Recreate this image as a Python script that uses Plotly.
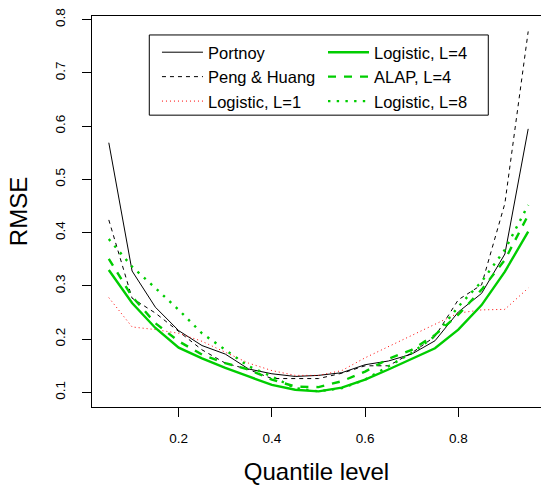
import plotly.graph_objects as go

quantile = [0.05, 0.10, 0.15, 0.20, 0.25, 0.30, 0.35, 0.40, 0.45, 0.50,
            0.55, 0.60, 0.65, 0.70, 0.75, 0.80, 0.85, 0.90, 0.95]

portnoy = [0.569, 0.328, 0.260, 0.216, 0.188, 0.172, 0.144, 0.135, 0.130, 0.132,
           0.137, 0.152, 0.159, 0.172, 0.197, 0.251, 0.286, 0.360, 0.595]
peng_huang = [0.424, 0.277, 0.249, 0.214, 0.180, 0.155, 0.143, 0.126, 0.126, 0.126,
              0.136, 0.150, 0.150, 0.174, 0.205, 0.274, 0.302, 0.455, 0.778]
logistic_l1 = [0.278, 0.223, 0.218, 0.211, 0.196, 0.175, 0.155, 0.141, 0.132, 0.132,
               0.141, 0.165, 0.186, 0.208, 0.229, 0.249, 0.255, 0.256, 0.296]
logistic_l4 = [0.330, 0.268, 0.221, 0.184, 0.164, 0.146, 0.130, 0.114, 0.105, 0.102,
               0.109, 0.124, 0.143, 0.163, 0.183, 0.218, 0.264, 0.327, 0.402]
alap_l4 = [0.351, 0.280, 0.230, 0.196, 0.171, 0.155, 0.143, 0.124, 0.111, 0.110,
           0.121, 0.139, 0.163, 0.180, 0.208, 0.246, 0.293, 0.349, 0.433]
logistic_l8 = [0.388, 0.336, 0.296, 0.255, 0.211, 0.180, 0.149, 0.130, 0.108, 0.102,
               0.108, 0.124, 0.149, 0.174, 0.206, 0.261, 0.308, 0.368, 0.452]

x_ticks = [0.2, 0.4, 0.6, 0.8]
y_ticks = [0.1, 0.2, 0.3, 0.4, 0.5, 0.6, 0.7, 0.8]

GREEN = "#00CD00"
FONT = "Liberation Sans, Arial, sans-serif"

series = [
    ("Portnoy", portnoy, dict(color="black", width=1, dash="solid"), "legend"),
    ("Peng & Huang", peng_huang, dict(color="black", width=1, dash="4px,4px"), "legend"),
    ("Logistic, L=1", logistic_l1, dict(color="red", width=1, dash="1px,3px"), "legend"),
    ("Logistic, L=4", logistic_l4, dict(color=GREEN, width=2.4, dash="solid"), "legend2"),
    ("ALAP, L=4", alap_l4, dict(color=GREEN, width=2.4, dash="8px,8px"), "legend2"),
    ("Logistic, L=8", logistic_l8, dict(color=GREEN, width=2.4, dash="2.4px,6.3px"), "legend2"),
]

fig = go.Figure()
for name, vals, line, leg in series:
    fig.add_trace(go.Scatter(x=quantile, y=vals, mode="lines", name=name,
                             line=line, legend=leg))

leg_common = dict(
    orientation="v", yanchor="top", xanchor="left",
    borderwidth=0, bgcolor="rgba(0,0,0,0)",
    font=dict(family=FONT, size=16.5, color="black"),
    itemwidth=41, traceorder="normal", tracegroupgap=0,
)

fig.update_layout(
    width=541, height=487,
    margin=dict(l=92, r=0, t=16, b=80),
    paper_bgcolor="white", plot_bgcolor="white",
    font=dict(family=FONT, color="black", size=12),
    showlegend=True,
    legend=dict(x=0.1447, y=0.9515, **leg_common),
    legend2=dict(x=0.5145, y=0.9515, **leg_common),
    shapes=[dict(type="rect", xref="paper", yref="paper",
                 x0=0.1276, x1=0.8826, y0=0.7464, y1=0.9515,
                 line=dict(color="black", width=1), fillcolor="rgba(0,0,0,0)")],
    xaxis=dict(
        range=[0.01395, 0.9775], tickvals=x_ticks, ticktext=[f"{v:.1f}" for v in x_ticks],
        ticks="outside", ticklen=9, tickcolor="black", tickwidth=1,
        ticklabelstandoff=10,
        showline=True, linecolor="black", linewidth=1, mirror=True,
        showgrid=False, zeroline=False,
        tickfont=dict(family=FONT, size=13.5),
        title=dict(text="Quantile level", font=dict(family=FONT, size=24), standoff=17),
    ),
    yaxis=dict(
        range=[0.0726, 0.807], tickvals=y_ticks, ticktext=[f"{v:.1f}" for v in y_ticks],
        ticks="outside", ticklen=9, tickcolor="black", tickwidth=1, tickangle=-90,
        ticklabelstandoff=12,
        showline=True, linecolor="black", linewidth=1, mirror=False,
        showgrid=False, zeroline=False,
        tickfont=dict(family=FONT, size=13.5),
        title=dict(text="RMSE", font=dict(family=FONT, size=24), standoff=18),
    ),
)

fig.write_html("out.html")
